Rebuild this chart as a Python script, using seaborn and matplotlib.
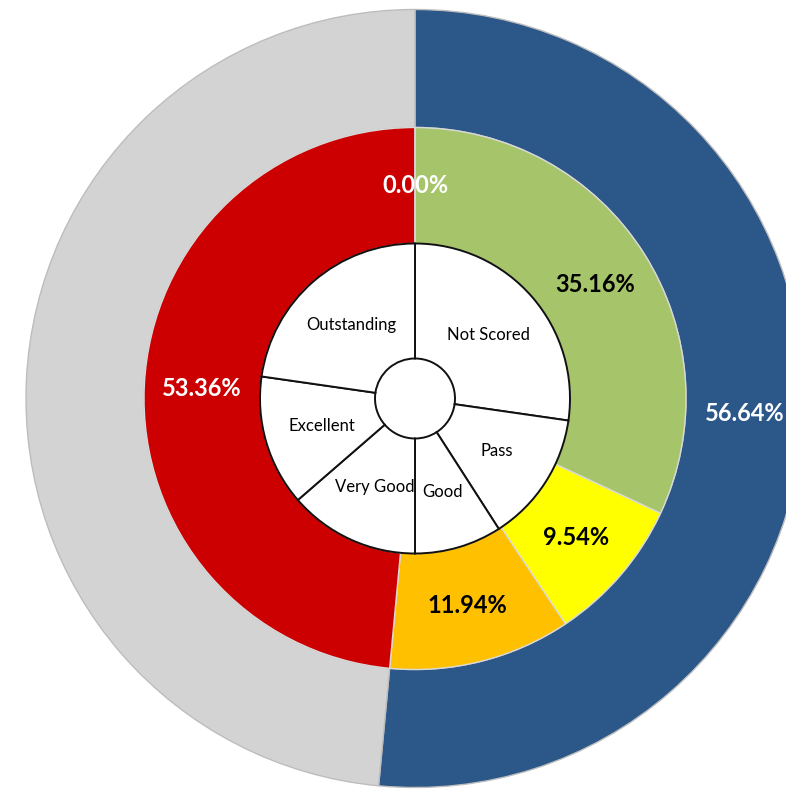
import matplotlib
matplotlib.use("Agg")
import matplotlib.pyplot as plt
import seaborn as sns

# ---- data ----
outer_labels = ["Scored", "Remaining"]
outer_values = [56.64, 53.36]
outer_colors = ["#2b5789", "#d3d3d3"]
outer_text = ["56.64%", ""]
outer_text_colors = ["white", "white"]

middle_labels = ["Not Scored", "Pass", "Good", "Very Good / Excellent", "Outstanding"]
middle_values = [35.16, 9.54, 11.94, 53.36, 0.00]
middle_colors = ["#a6c46a", "#ffff00", "#ffc000", "#cc0000", "#cc0000"]
middle_text_colors = ["black", "black", "black", "white", "white"]

inner_labels = ["Not Scored", "Pass", "Good", "Very Good", "Excellent", "Outstanding"]
inner_values = [3, 1.5, 1, 1.5, 1.5, 2.5]

sns.set_theme(style="white")
plt.rcParams["font.family"] = ["Lato", "DejaVu Sans"]

fig = plt.figure(figsize=(7.86, 7.90), dpi=100)
ax = fig.add_axes([0, 0, 1, 1])

R_OUT, R_MID, R_IN, R_HOLE = 389, 271, 155, 40

# outer ring
w_out, t_out = ax.pie(outer_values, radius=R_OUT, startangle=90, counterclock=False,
                      colors=outer_colors, labels=outer_text,
                      labeldistance=(R_OUT + R_MID) / 2 / R_OUT,
                      wedgeprops=dict(width=R_OUT - R_MID, edgecolor="#bdbdbd", linewidth=1.0))
for t, c in zip(t_out, outer_text_colors):
    t.set_ha("center"); t.set_va("center"); t.set_color(c)
    t.set_fontsize(17); t.set_fontweight("bold")

# middle ring
mid_text = [f"{v:.2f}%" for v in middle_values]
w_mid, t_mid = ax.pie(middle_values, radius=R_MID, startangle=90, counterclock=False,
                      colors=middle_colors, labels=mid_text,
                      labeldistance=(R_MID + R_IN) / 2 / R_MID,
                      wedgeprops=dict(width=R_MID - R_IN, edgecolor="#d9d9d9", linewidth=1.0))
for t, c in zip(t_mid, middle_text_colors):
    t.set_ha("center"); t.set_va("center"); t.set_color(c)
    t.set_fontsize(17); t.set_fontweight("bold")

# inner label ring
w_in, t_in = ax.pie(inner_values, radius=R_IN, startangle=90, counterclock=False,
                    colors=["white"] * len(inner_values), labels=inner_labels,
                    labeldistance=97 / R_IN,
                    wedgeprops=dict(width=R_IN - R_HOLE, edgecolor="#111111", linewidth=1.4))
for t in t_in:
    t.set_ha("center"); t.set_va("center"); t.set_color("black"); t.set_fontsize(12)

ax.set_xlim(-415, 786 - 415)
ax.set_ylim(-391.5, 398.5)
ax.set_aspect("equal")
ax.axis("off")

fig.savefig("out.png", dpi=100)
